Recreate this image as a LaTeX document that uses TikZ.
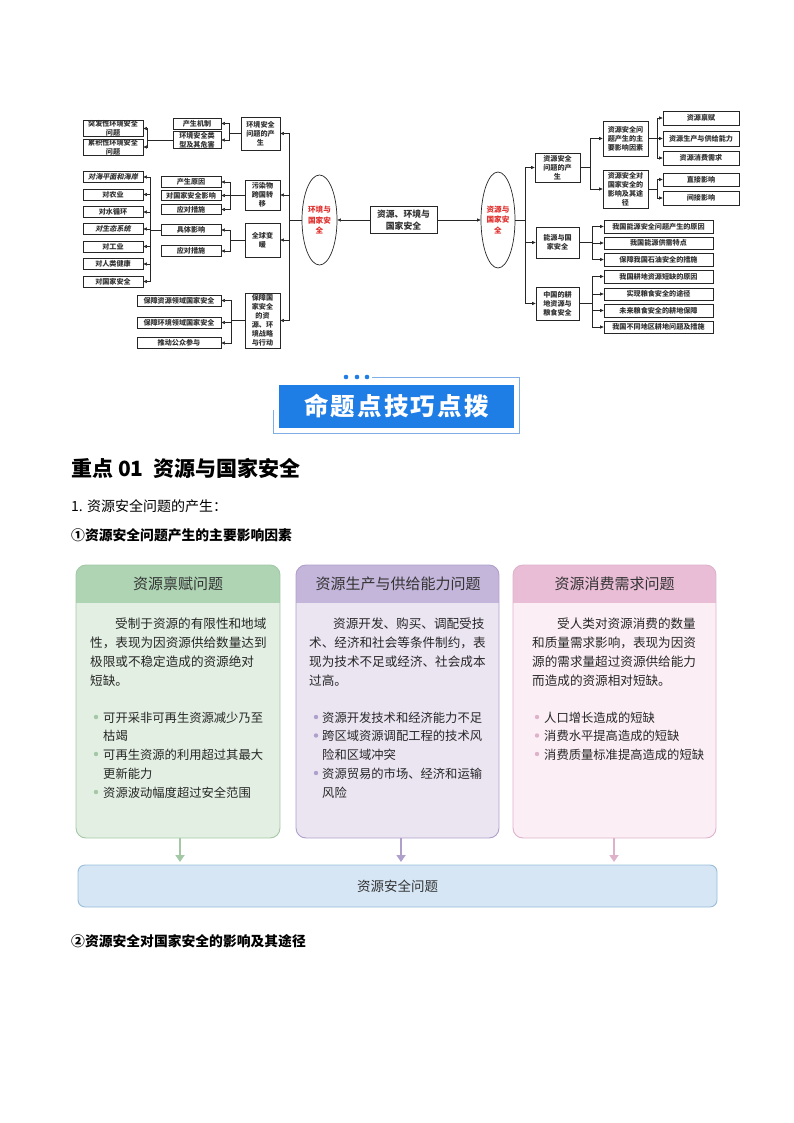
\documentclass[tikz,border=0pt]{standalone}
\usepackage{fontspec}
\setmainfont{Noto Sans CJK SC}
\newfontfamily\slantfont{Noto Sans CJK SC}[FakeSlant=0.2]
\usetikzlibrary{shapes.geometric,arrows.meta}
\definecolor{gHead}{HTML}{AED4B4}
\definecolor{gBody}{HTML}{E2EFE2}
\definecolor{gLine}{HTML}{A3C8A6}
\definecolor{pHead}{HTML}{C4B6DA}
\definecolor{pBody}{HTML}{EBE5F2}
\definecolor{pLine}{HTML}{AE9FCB}
\definecolor{kHead}{HTML}{E9BDD6}
\definecolor{kBody}{HTML}{FBEFF5}
\definecolor{kLine}{HTML}{DDB2CA}
\definecolor{bBody}{HTML}{D6E6F5}
\definecolor{bLine}{HTML}{98BEDA}
\definecolor{banBlue}{HTML}{1F7DE6}
\definecolor{banLine}{HTML}{7FAEE6}
\definecolor{mmRed}{HTML}{E0312E}
\newcommand\mmf{\fontsize{7.1}{8.9}\selectfont\bfseries}
\tikzset{
  mm/.style={draw=black!85, line width=0.7pt, fill=white, inner sep=1pt, align=center, font=\mmf, text=black!80},
  ar/.style={draw=black!85, line width=0.6pt, -{Triangle[length=3.5pt,width=3pt]}},
  ell/.style={ellipse, draw=black!85, line width=0.7pt, fill=white, inner sep=0pt, align=center, text=mmRed, font=\fontsize{7.6}{10.5}\selectfont\bfseries},
  body/.style={font=\fontsize{12.6}{12.6}\selectfont, text=black!85, inner sep=0pt, anchor=base west},
  bul/.style={font=\fontsize{12.3}{12.3}\selectfont, text=black!85, inner sep=0pt, anchor=base west},
  hdr/.style={font=\fontsize{15}{15}\selectfont, text=black!80, inner sep=0pt},
  big/.style={line width=2pt, -{Triangle[length=7pt,width=9pt]}, shorten >=3pt},
}
\begin{document}
\begin{tikzpicture}[x=1pt,y=-1pt]
\useasboundingbox (0,0) rectangle (794,1123);
\fill[white] (0,0) rectangle (794,1123);

% ---------------- mind map: centre ----------------
\node[mm, font=\fontsize{8.8}{11.5}\selectfont\bfseries, minimum width=67pt, minimum height=27pt] (c) at (403.5,220) {资源、环境与\\国家安全};
\node[ell, minimum width=35pt, minimum height=90pt] (el) at (319.5,220) {环境与\\国家安\\全};
\node[ell, minimum width=34pt, minimum height=96pt] (er) at (498,220) {资源与\\国家安\\全};
\draw[ar] (c.west) -- (el.west -| el.east);
\draw[ar] (c.east) -- (er.west);

% ---------------- left side ----------------
\node[mm, minimum width=39pt, minimum height=33pt] (e1) at (260.5,133.5) {环境安全\\问题的产\\生};
\node[mm, minimum width=48pt, minimum height=11pt] (e11) at (197,123.5) {产生机制};
\node[mm, minimum width=48pt, minimum height=17pt, inner ysep=0.2pt] (e12) at (197,140) {环境安全类\\型及其危害};
\node[mm, minimum width=60pt, minimum height=16pt, inner ysep=0.2pt] (e121) at (113,128.5) {突发性环境安全\\问题};
\node[mm, minimum width=60pt, minimum height=16pt, inner ysep=0.2pt] (e122) at (113,147) {累积性环境安全\\问题};

\node[mm, minimum width=35pt, minimum height=30pt] (e2) at (262.5,195) {污染物\\跨国转\\移};
\node[mm, minimum width=60pt, minimum height=10.5pt] (e21) at (191,182) {产生原因};
\node[mm, minimum width=60pt, minimum height=10.5pt] (e22) at (191,195.5) {对国家安全影响};
\node[mm, minimum width=60pt, minimum height=10.5pt] (e23) at (191,209.5) {应对措施};

\node[mm, minimum width=35pt, minimum height=34pt] (e3) at (262.5,240) {全球变\\暖};
\node[mm, minimum width=60pt, minimum height=10.5pt] (e31) at (191,230) {具体影响};
\node[mm, minimum width=60pt, minimum height=10.5pt] (e32) at (191,251) {应对措施};
\node[mm, minimum width=60pt, minimum height=11pt] (f1) at (113,177) {\slantfont\bfseries 对海平面和海岸};
\node[mm, minimum width=60pt, minimum height=11pt] (f2) at (113,194.5) {对农业};
\node[mm, minimum width=60pt, minimum height=11pt] (f3) at (113,212) {对水循环};
\node[mm, minimum width=60pt, minimum height=11pt] (f4) at (113,229) {\slantfont\bfseries 对生态系统};
\node[mm, minimum width=60pt, minimum height=11pt] (f5) at (113,246.5) {对工业};
\node[mm, minimum width=60pt, minimum height=11pt] (f6) at (113,264) {对人类健康};
\node[mm, minimum width=60pt, minimum height=11pt] (f7) at (113,281.5) {对国家安全};

\node[mm, minimum width=35pt, minimum height=55pt, inner ysep=0.3pt] (e4) at (262.5,320.5) {保障国\\家安全\\的资\\源、环\\境战略\\与行动};
\node[mm, minimum width=84pt, minimum height=11pt] (e41) at (179,300.5) {保障资源领域国家安全};
\node[mm, minimum width=84pt, minimum height=11pt] (e42) at (179,322.5) {保障环境领域国家安全};
\node[mm, minimum width=84pt, minimum height=11.5pt] (e43) at (179,343) {推动公众参与};

\foreach \n in {e1,e2,e3,e4} \draw[ar] (el.west) -- ++(-12,0) |- (\n.east);
\foreach \n in {e11,e12} \draw[ar] (e1.west) -- ++(-11,0) |- (\n.east);
\foreach \n in {e121,e122} \draw[ar] (e12.west) -- ++(-25,0) |- (\n.east);
\foreach \n in {e21,e22,e23} \draw[ar] (e2.west) -- ++(-14,0) |- (\n.east);
\foreach \n in {e31,e32} \draw[ar] (e3.west) -- ++(-14,0) |- (\n.east);
\foreach \n in {f1,f2,f3,f4,f5,f6,f7} \draw[ar] (e31.west) -- ++(-10,0) |- (\n.east);
\foreach \n in {e41,e42,e43} \draw[ar] (e4.west) -- ++(-13,0) |- (\n.east);

% ---------------- right side ----------------
\node[mm, minimum width=45pt, minimum height=29pt] (r1) at (557.5,167.5) {资源安全\\问题的产\\生};
\node[mm, minimum width=45pt, minimum height=35pt] (r11) at (625.5,138.5) {资源安全问\\题产生的主\\要影响因素};
\node[mm, minimum width=45pt, minimum height=38pt] (r12) at (625.5,189) {资源安全对\\国家安全的\\影响及其途\\径};
\node[mm, minimum width=76pt, minimum height=14pt] (r111) at (701,118) {资源禀赋};
\node[mm, minimum width=76pt, minimum height=15pt] (r112) at (701,138.5) {资源生产与供给能力};
\node[mm, minimum width=76pt, minimum height=14pt] (r113) at (701,158) {资源消费需求};
\node[mm, minimum width=76pt, minimum height=13pt] (r121) at (701,179.5) {直接影响};
\node[mm, minimum width=76pt, minimum height=14pt] (r122) at (701,198) {间接影响};

\node[mm, minimum width=43pt, minimum height=31pt] (r2) at (557.5,242.5) {能源与国\\家安全};
\node[mm, minimum width=109pt, minimum height=13pt] (r21) at (658.5,226.5) {我国能源安全问题产生的原因};
\node[mm, minimum width=109pt, minimum height=12pt] (r22) at (658.5,243) {我国能源供需特点};
\node[mm, minimum width=109pt, minimum height=13pt] (r23) at (658.5,259.5) {保障我国石油安全的措施};

\node[mm, minimum width=43pt, minimum height=33pt] (r3) at (557.5,303.5) {中国的耕\\地资源与\\粮食安全};
\node[mm, minimum width=109pt, minimum height=13pt] (r31) at (658.5,276.5) {我国耕地资源短缺的原因};
\node[mm, minimum width=109pt, minimum height=12pt] (r32) at (658.5,294) {实现粮食安全的途径};
\node[mm, minimum width=109pt, minimum height=13pt] (r33) at (658.5,310.5) {未来粮食安全的耕地保障};
\node[mm, minimum width=109pt, minimum height=12pt] (r34) at (658.5,327) {我国不同地区耕地问题及措施};

\foreach \n in {r1,r2,r3} \draw[ar] (er.east) -- ++(10,0) |- (\n.west);
\foreach \n in {r11,r12} \draw[ar] (r1.east) -- ++(10,0) |- (\n.west);
\foreach \n in {r111,r112,r113} \draw[ar] (r11.east) -- ++(9,0) |- (\n.west);
\foreach \n in {r121,r122} \draw[ar] (r12.east) -- ++(9,0) |- (\n.west);
\foreach \n in {r21,r22,r23} \draw[ar] (r2.east) -- ++(13,0) |- (\n.west);
\foreach \n in {r31,r32,r33,r34} \draw[ar] (r3.east) -- ++(13,0) |- (\n.west);

% ---------------- banner ----------------
\draw[banLine, line width=1pt] (372,377) -- (519,377) -- (519,433) -- (273,433) -- (273,410);
\fill[banBlue] (346,377) circle (2.3pt) (357,377) circle (2.3pt) (367,377) circle (2.3pt);
\node[fill=banBlue, minimum width=235pt, minimum height=43pt, inner sep=0pt, text=white,
      font=\fontsize{24.5}{24.5}\selectfont\bfseries\addfontfeature{LetterSpace=9}] (ban) at (396.5,406.5) {命题点技巧点拨};

% ---------------- headings ----------------
\node[anchor=west, inner sep=0pt, font=\fontsize{21}{21}\selectfont\bfseries] (h1) at (71,468) {重点 01\ \ 资源与国家安全};
\node[anchor=west, inner sep=0pt, font=\fontsize{14}{14}\selectfont] (h2) at (71,506) {1. 资源安全问题的产生：};
\node[anchor=west, inner sep=0pt, font=\fontsize{13.8}{14}\selectfont\bfseries] (h3) at (71,535.5) {①资源安全问题产生的主要影响因素};
\node[anchor=west, inner sep=0pt, font=\fontsize{13.8}{14}\selectfont\bfseries] (h4) at (71,941.5) {②资源安全对国家安全的影响及其途径};

% ---------------- three boxes ----------------
\begin{scope}
\clip[rounded corners=10pt] (76,565) rectangle (280,838);
\fill[gBody] (76,565) rectangle (280,838);
\fill[gHead] (76,565) rectangle (280,603);
\end{scope}
\node[draw=gLine, line width=0.9pt, rounded corners=10pt, minimum width=204pt, minimum height=273pt, inner sep=0pt] (gb) at (178,701.5) {};
\begin{scope}
\clip[rounded corners=10pt] (296,565) rectangle (499,838);
\fill[pBody] (296,565) rectangle (499,838);
\fill[pHead] (296,565) rectangle (499,603);
\end{scope}
\node[draw=pLine, line width=0.9pt, rounded corners=10pt, minimum width=203pt, minimum height=273pt, inner sep=0pt] (pb) at (397.5,701.5) {};
\begin{scope}
\clip[rounded corners=10pt] (513,565) rectangle (716,838);
\fill[kBody] (513,565) rectangle (716,838);
\fill[kHead] (513,565) rectangle (716,603);
\end{scope}
\node[draw=kLine, line width=0.9pt, rounded corners=10pt, minimum width=203pt, minimum height=273pt, inner sep=0pt] (kb) at (614.5,701.5) {};

\node[hdr] (gh) at (178,584) {资源禀赋问题};
\node[hdr] (ph) at (398,584) {资源生产与供给能力问题};
\node[hdr] (kh) at (614.5,584) {资源消费需求问题};

% box 1 text
\node[body] (g1) at (115,628) {受制于资源的有限性和地域};
\node[body] (g2) at (90,647) {性，表现为因资源供给数量达到};
\node[body] (g3) at (90,666) {极限或不稳定造成的资源绝对};
\node[body] (g4) at (90,685) {短缺。};
\fill[gLine] (96,717) circle (2.2pt) (96,754) circle (2.2pt) (96,792) circle (2.2pt);
\node[bul] (g5) at (103,722) {可开采非可再生资源减少乃至};
\node[bul] (g6) at (103,740.5) {枯竭};
\node[bul] (g7) at (103,759) {可再生资源的利用超过其最大};
\node[bul] (g8) at (103,778) {更新能力};
\node[bul] (g9) at (103,797) {资源波动幅度超过安全范围};

% box 2 text
\node[body] (p1) at (333,628) {资源开发、购买、调配受技};
\node[body] (p2) at (309,647) {术、经济和社会等条件制约，表};
\node[body] (p3) at (309,666) {现为技术不足或经济、社会成本};
\node[body] (p4) at (309,685) {过高。};
\fill[pLine] (316,717) circle (2.2pt) (316,735.5) circle (2.2pt) (316,773) circle (2.2pt);
\node[bul] (p5) at (322,722) {资源开发技术和经济能力不足};
\node[bul] (p6) at (322,740.5) {跨区域资源调配工程的技术风};
\node[bul] (p7) at (322,759) {险和区域冲突};
\node[bul] (p8) at (322,778) {资源贸易的市场、经济和运输};
\node[bul] (p9) at (322,797) {风险};

% box 3 text
\node[body] (k1) at (557,628) {受人类对资源消费的数量};
\node[body] (k2) at (532,647) {和质量需求影响，表现为因资};
\node[body] (k3) at (532,666) {源的需求量超过资源供给能力};
\node[body] (k4) at (532,685) {而造成的资源相对短缺。};
\fill[kLine] (537,717) circle (2.2pt) (537,735.5) circle (2.2pt) (537,754) circle (2.2pt);
\node[bul] (k5) at (544,722) {人口增长造成的短缺};
\node[bul] (k6) at (544,740.5) {消费水平提高造成的短缺};
\node[bul] (k7) at (544,759) {消费质量标准提高造成的短缺};

% bottom box
\node[draw=bLine, fill=bBody, line width=0.9pt, rounded corners=7pt, minimum width=639pt, minimum height=42pt, inner sep=0pt,
      font=\fontsize{13.5}{13.5}\selectfont, text=black!80] (bb) at (397.5,886) {资源安全问题};

\draw[big, gLine] (180,838) -- (180,865);
\draw[big, pLine] (401,838) -- (401,865);
\draw[big, kLine] (614,838) -- (614,865);
\end{tikzpicture}
\end{document}
